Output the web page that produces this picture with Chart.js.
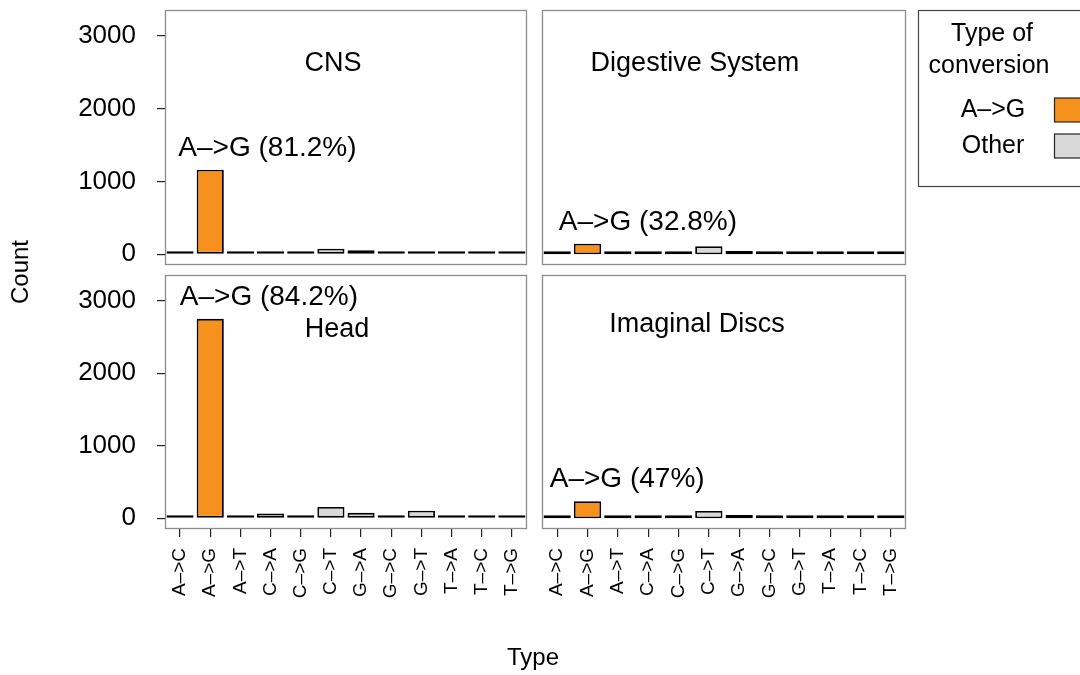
<!DOCTYPE html>
<html>
<head>
<meta charset="utf-8">
<title>Conversion types by tissue</title>
<script src="https://cdn.jsdelivr.net/npm/chart.js@4.4.1/dist/chart.umd.min.js"></script>
<style>
  html, body { margin: 0; padding: 0; background: #ffffff; }
  #wrap { position: relative; width: 1080px; height: 675px; overflow: hidden; background: #ffffff; }
  #wrap canvas { position: absolute; left: 0; top: 0; }
</style>
</head>
<body>
<div id="wrap">
  <canvas id="cns" width="1080" height="675"></canvas>
  <canvas id="digestive" width="1080" height="675"></canvas>
  <canvas id="head" width="1080" height="675"></canvas>
  <canvas id="imaginal" width="1080" height="675"></canvas>
</div>
<script>
// ---- data -------------------------------------------------------------
const types = ['A–>C', 'A–>G', 'A–>T', 'C–>A', 'C–>G', 'C–>T', 'G–>A', 'G–>C', 'G–>T', 'T–>A', 'T–>C', 'T–>G'];
const yTicks = [0, 1000, 2000, 3000];

const cnsCounts       = [20, 1160, 15, 30, 10,  75, 55, 15,  15, 10, 15,  9];
const digestiveCounts = [12,  145, 15, 30,  9, 110, 45, 15,  15, 10, 28,  8];
const headCounts      = [18, 2750, 18, 65, 15, 155, 75, 15, 105, 20, 20, 10];
const imaginalCounts  = [10,  235, 20, 15,  8, 100, 45, 15,  15,  8, 20,  9];

const highlightType = 'A–>G';
const legendTitle = ['Type of', 'conversion'];
const legendLabels = ['A–>G', 'Other'];

// ---- styling ----------------------------------------------------------
const FONT = "'Liberation Sans', Arial, Helvetica, sans-serif";
const ORANGE = '#F7911E';
const GREY = '#D9D9D9';
const W = 1080, H = 675;
const Y_MIN = -148, Y_MAX = 3355;
const NOTE_GAP = 190;   // share label sits this far (in counts) above its bar

const panels = [
  { id: 'cns',       title: 'CNS',              counts: cnsCounts,       box: [165, 10, 527, 265],  showX: false, showY: true,  titleAt: [0.464, 54], noteAt: 0.283 },
  { id: 'digestive', title: 'Digestive System', counts: digestiveCounts, box: [542, 10, 906, 265],  showX: false, showY: false, titleAt: [0.420, 54], noteAt: 0.291 },
  { id: 'head',      title: 'Head',             counts: headCounts,      box: [165, 275, 527, 529], showX: true,  showY: true,  titleAt: [0.475, 55], noteAt: 0.287 },
  { id: 'imaginal',  title: 'Imaginal Discs',   counts: imaginalCounts,  box: [542, 275, 906, 529], showX: true,  showY: false, titleAt: [0.426, 50], noteAt: 0.234 }
];

function shareText(counts) {
  const total = counts.reduce((a, b) => a + b, 0);
  const i = types.indexOf(highlightType);
  return Number((counts[i] / total * 100).toFixed(1)) + '%';
}

// Panel frame, facet title and the A->G share label
function panelDecor(p) {
  return {
    id: 'panelDecor_' + p.id,
    afterDraw(chart) {
      const { ctx, chartArea: a } = chart;
      const w = a.right - a.left;
      ctx.save();
      ctx.strokeStyle = '#8c8c8c';
      ctx.lineWidth = 1.3;
      ctx.strokeRect(a.left + 0.5, a.top + 0.5, w - 1, a.bottom - a.top - 1);
      ctx.fillStyle = '#000';
      ctx.font = '27px ' + FONT;
      ctx.textAlign = 'center';
      ctx.textBaseline = 'middle';
      ctx.fillText(p.title, a.left + p.titleAt[0] * w, a.top + p.titleAt[1]);
      const i = types.indexOf(highlightType);
      const y = chart.scales.y.getPixelForValue(p.counts[i] + NOTE_GAP);
      ctx.textBaseline = 'alphabetic';
      ctx.font = '28px ' + FONT;
      ctx.fillText(highlightType + ' (' + shareText(p.counts) + ')', a.left + p.noteAt * w, y);
      ctx.restore();
    }
  };
}

// Axis titles and the legend box, drawn once
const figureDecor = {
  id: 'figureDecor',
  afterDraw(chart) {
    const ctx = chart.ctx;
    ctx.save();
    ctx.fillStyle = '#000';
    ctx.font = '24px ' + FONT;
    ctx.textAlign = 'center';
    ctx.textBaseline = 'alphabetic';
    ctx.fillText('Type', 533, 665);
    ctx.save();
    ctx.translate(21, 272);
    ctx.rotate(-Math.PI / 2);
    ctx.textBaseline = 'middle';
    ctx.fillText('Count', 0, 0);
    ctx.restore();

    // legend
    ctx.strokeStyle = '#444';
    ctx.lineWidth = 1.2;
    ctx.strokeRect(918.5, 10.5, 200, 176);
    ctx.font = '25px ' + FONT;
    ctx.fillText(legendTitle[0], 992, 41);
    ctx.fillText(legendTitle[1], 989, 73);
    const swatches = [ORANGE, GREY];
    const rows = [117, 153];
    legendLabels.forEach((lab, k) => {
      ctx.fillStyle = '#000';
      ctx.fillText(lab, 993, rows[k]);
      ctx.fillStyle = swatches[k];
      ctx.fillRect(1054.5, rows[k] - 19, 28, 24);
      ctx.strokeStyle = '#222';
      ctx.lineWidth = 1.2;
      ctx.strokeRect(1054.5, rows[k] - 19, 28, 24);
    });
    ctx.restore();
  }
};

panels.forEach((p, idx) => {
  const plugins = [panelDecor(p)];
  if (idx === 0) plugins.push(figureDecor);
  // a visible axis takes the whole margin so its labels stay inside the label clip area
  const yWidth = p.showY ? p.box[0] : 0;
  const xHeight = p.showX ? H - p.box[3] : 0;
  new Chart(document.getElementById(p.id), {
    type: 'bar',
    data: {
      labels: types,
      datasets: [{
        data: p.counts,
        backgroundColor: types.map(t => t === highlightType ? ORANGE : GREY),
        borderColor: '#000',
        borderWidth: 1.8,
        borderSkipped: false,
        minBarLength: 3,
        barPercentage: 0.9,
        categoryPercentage: 1.0
      }]
    },
    options: {
      responsive: false,
      devicePixelRatio: 1,
      animation: false,
      events: [],
      layout: {
        padding: {
          left: p.box[0] - yWidth,
          top: p.box[1],
          right: W - p.box[2],
          bottom: (H - p.box[3]) - xHeight
        }
      },
      plugins: { legend: { display: false }, tooltip: { enabled: false }, title: { display: false } },
      scales: {
        x: {
          type: 'category',
          offset: true,
          display: p.showX,
          grid: { display: true, drawOnChartArea: false, drawTicks: true, tickLength: 8, offset: false, color: '#222', lineWidth: 1.2 },
          border: { display: false },
          ticks: { autoSkip: false, minRotation: 90, maxRotation: 90, padding: 11, color: '#000', font: { family: FONT, size: 19 } },
          afterFit: s => { s.height = xHeight; s.paddingLeft = 0; s.paddingRight = 0; }
        },
        y: {
          type: 'linear',
          min: Y_MIN,
          max: Y_MAX,
          display: p.showY,
          afterBuildTicks: s => { s.ticks = yTicks.map(v => ({ value: v })); },
          grid: { drawOnChartArea: false, drawTicks: true, tickLength: 8, color: '#222', lineWidth: 1.2 },
          border: { display: false },
          ticks: { autoSkip: false, padding: 21, color: '#000', font: { family: FONT, size: 26 }, callback: v => String(v) },
          afterFit: s => { s.width = yWidth; s.paddingTop = 0; s.paddingBottom = 0; }
        }
      }
    },
    plugins: plugins
  });
});
</script>
</body>
</html>
